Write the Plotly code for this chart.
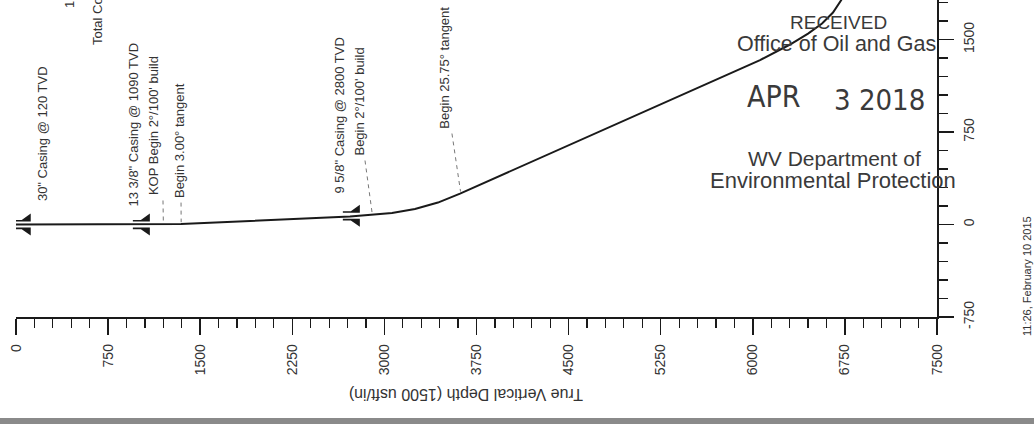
import numpy as np
import plotly.graph_objects as go

# ---- data ----
path_tvd = [0, 1197, 1344, 2720, 2883, 3062, 3249, 3436, 3616, 4430, 5163, 5676, 6059, 6303, 6450, 6564, 6653, 6718, 6775]
path_vs = [0, 0, 4, 65, 77, 93, 126, 178, 251, 612, 937, 1164, 1334, 1460, 1549, 1630, 1719, 1817, 1914]

casing_tvd = [120, 1090, 2800]

label_text = ['30" Casing @ 120 TVD', '13 3/8" Casing @ 1090 TVD', "KOP Begin 2°/100' build",
              "Begin 3.00° tangent", '9 5/8" Casing @ 2800 TVD', "Begin 2°/100' build",
              "Begin 25.75° tangent", "Total Correction to Grid North", "1"]
label_tvd = [212, 953, 1116, 1336, 2638, 2801, 3494, 668, 440]
label_vs = [170, 130, 219, 195, 235, 543, 762, 1436, 1736]

leader_event_tvd = [1200, 1345, 2900, 3620]
leader_top_tvd = [1197, 1344, 2842, 3550]
leader_top_vs = [195, 178, 519, 738]

tvd_ticks = [0, 750, 1500, 2250, 3000, 3750, 4500, 5250, 6000, 6750, 7500]
vs_ticks = [-750, 0, 750, 1500]

stamp_lines = ["RECEIVED", "Office of Oil and Gas", "APR", "3 2018", "WV Department of", "Environmental Protection"]

FONT = "Liberation Sans, Arial, sans-serif"
NARROW = "Liberation Sans Narrow, Arial Narrow, DejaVu Sans Condensed, Roboto Condensed, Liberation Sans, sans-serif"
INK = "#1a1a1a"
TXT = "#333333"

fig = go.Figure()

# well path
fig.add_trace(go.Scatter(x=path_tvd, y=path_vs, mode="lines",
                         line=dict(color=INK, width=2), hoverinfo="skip", showlegend=False))

# leader lines
lx, ly = [], []
for ev, tt, tv in zip(leader_event_tvd, leader_top_tvd, leader_top_vs):
    pv = float(np.interp(ev, path_tvd, path_vs))
    lx += [tt, ev, None]
    ly += [tv, pv + 15, None]
fig.add_trace(go.Scatter(x=lx, y=ly, mode="lines",
                         line=dict(color="#777777", width=1, dash="4px,4px"),
                         hoverinfo="skip", showlegend=False))

# casing symbols
shapes = []
for c in casing_tvd:
    v = float(np.interp(c, path_tvd, path_vs))
    for sgn in (1, -1):
        p = (f"M -17,{3*sgn} L 0,{3*sgn} L 0,{11*sgn} L -9,{4.6*sgn} L -17,{4.6*sgn} Z")
        shapes.append(dict(type="path", xref="x", yref="y", xsizemode="pixel", ysizemode="pixel",
                           xanchor=c, yanchor=v, path=p, fillcolor=INK,
                           line=dict(color=INK, width=0)))

# bottom scan edge
shapes.append(dict(type="rect", xref="paper", yref="paper", x0=-0.05, x1=1.15,
                   y0=-0.3186, y1=-0.36, fillcolor="#8a8a8a", line=dict(width=0), layer="above"))

annotations = []
for t, x, y in zip(label_text, label_tvd, label_vs):
    annotations.append(dict(x=x, y=y, xref="x", yref="y", text=t, showarrow=False,
                            textangle=-90, xanchor="center", yanchor="bottom",
                            font=dict(family=FONT, size=13, color=TXT)))

# axis title (upside down as in the scan)
annotations.append(dict(x=(466 - 16) / 921, y=(317 - 395) / 317, xref="paper", yref="paper",
                        text="True Vertical Depth (1500 usft/in)", showarrow=False,
                        xanchor="center", yanchor="middle",
                        textangle=180, font=dict(family=FONT, size=16, color=TXT)))
# timestamp
annotations.append(dict(x=(1027 - 16) / 921, y=(317 - 276) / 317, xref="paper", yref="paper",
                        text="11:26, February 10 2015", showarrow=False, textangle=-90,
                        xanchor="center", yanchor="middle",
                        font=dict(family=FONT, size=11, color=TXT)))

# stamp
stamp_pos = [(838, 22), (836, 44), (773, 96), (879, 100), (834, 158), (833, 180)]
stamp_size = [19, 21.5, 30, 29, 21, 22]
stamp_font = [FONT, FONT, NARROW, NARROW, FONT, FONT]
for t, (px, py), s, f in zip(stamp_lines, stamp_pos, stamp_size, stamp_font):
    annotations.append(dict(x=(px - 16) / 921, y=(317 - py) / 317, xref="paper", yref="paper",
                            text=t, showarrow=False, xanchor="center", yanchor="middle",
                            font=dict(family=f, size=s, color="#3a3a3a")))

fig.update_layout(
    width=1034, height=424,
    margin=dict(l=16, r=97, t=0, b=107),
    paper_bgcolor="white", plot_bgcolor="white",
    showlegend=False,
    shapes=shapes, annotations=annotations,
    xaxis=dict(range=[0, 7500], tickmode="array", tickvals=tvd_ticks,
               ticktext=[str(v) for v in tvd_ticks],
               showline=True, linecolor=INK, linewidth=1.5,
               ticks="outside", ticklen=16, tickwidth=1.5, tickcolor=INK,
               tickangle=-90, ticklabelstandoff=4,
               tickfont=dict(family=FONT, size=14, color=TXT),
               showgrid=False, zeroline=False,
               minor=dict(dtick=150, tick0=0, ticks="outside", ticklen=9, tickwidth=1.2,
                          tickcolor=INK, showgrid=False)),
    yaxis=dict(range=[-750, 1821], side="right", tickmode="array", tickvals=vs_ticks,
               ticktext=[str(v) for v in vs_ticks],
               showline=True, linecolor=INK, linewidth=1.5,
               ticks="outside", ticklen=15, tickwidth=1.5, tickcolor=INK,
               tickangle=-90, ticklabelstandoff=4,
               tickfont=dict(family=FONT, size=14, color=TXT),
               showgrid=False, zeroline=False,
               minor=dict(dtick=150, tick0=0, ticks="outside", ticklen=9, tickwidth=1.2,
                          tickcolor=INK, showgrid=False)),
)

fig.write_html("out.html", config={"displayModeBar": False, "staticPlot": True},
               post_script="document.body.style.margin='0px';")
